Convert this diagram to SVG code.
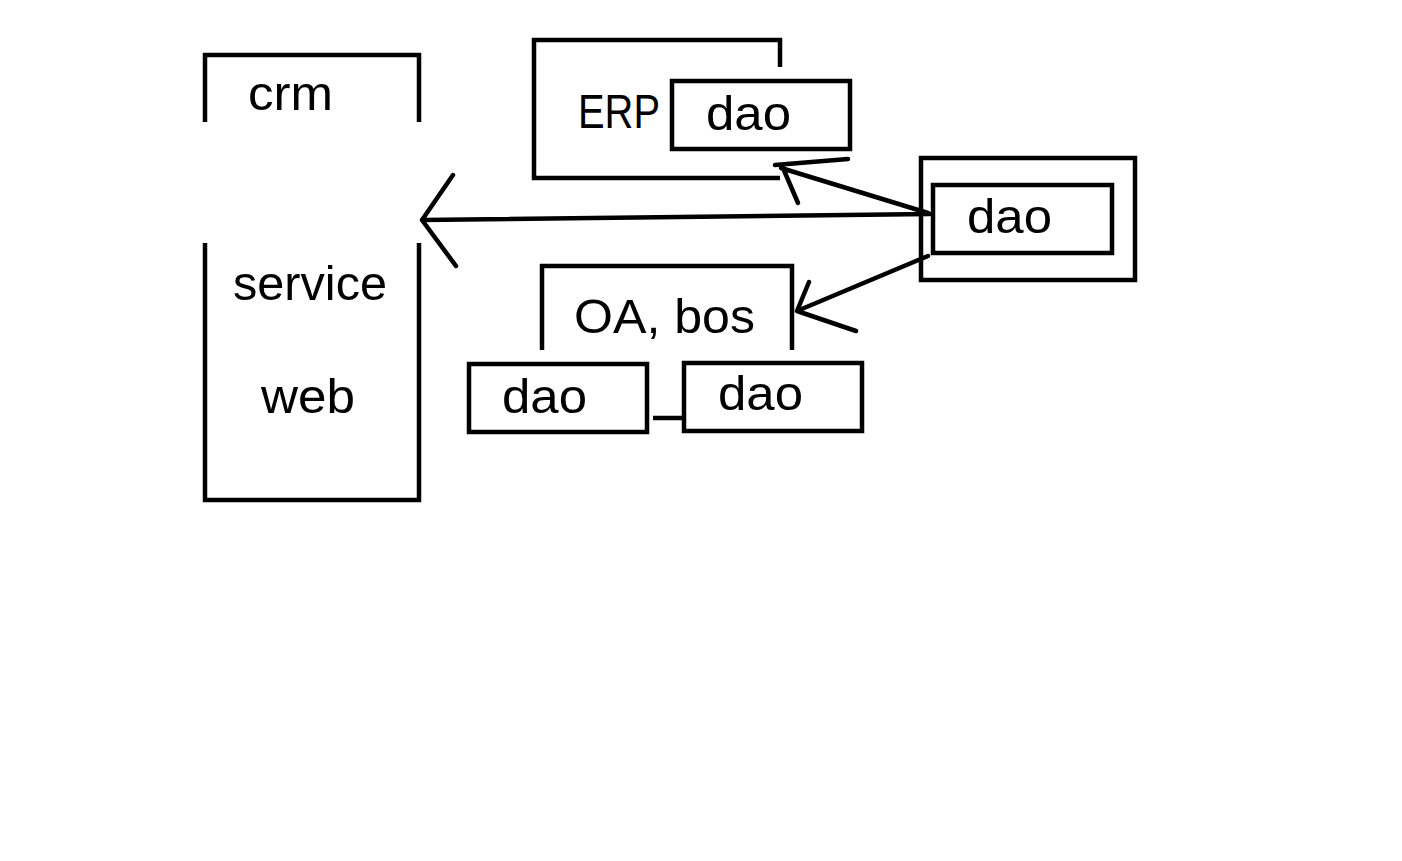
<svg xmlns="http://www.w3.org/2000/svg" width="1402" height="861" viewBox="0 0 1402 861">
<style>
.s{fill:none;stroke:#000;stroke-width:4.5;stroke-linecap:butt;stroke-linejoin:miter}
.c{fill:none;stroke:#000;stroke-width:4.5;stroke-linecap:round;stroke-linejoin:round}
.t{font-family:"Liberation Sans",Arial,sans-serif;font-size:49px;fill:#000}
</style>
<rect width="1402" height="861" fill="#fff"/>
<g id="crm">
<path class="s" d="M205,122 V55 H419 V122"/>
<path class="s" d="M205,243 V500 H419 V243"/>
<text class="t" x="248" y="110" textLength="85" lengthAdjust="spacingAndGlyphs">crm</text>
<text class="t" x="233" y="300" textLength="154" lengthAdjust="spacingAndGlyphs">service</text>
<text class="t" x="261" y="413" textLength="94" lengthAdjust="spacingAndGlyphs">web</text>
</g>
<g id="erp">
<path class="s" d="M780,67 V40 H534 V178 H780"/>
<text class="t" x="578" y="128" textLength="82" lengthAdjust="spacingAndGlyphs">ERP</text>
</g>
<g id="erp-dao">
<rect class="s" x="672" y="81" width="178" height="68"/>
<text class="t" x="706" y="130" textLength="85" lengthAdjust="spacingAndGlyphs">dao</text>
</g>
<g id="shared-dao">
<rect class="s" x="921" y="158" width="214" height="122"/>
<rect class="s" x="933" y="185" width="179" height="68"/>
<text class="t" x="967" y="233" textLength="85" lengthAdjust="spacingAndGlyphs">dao</text>
</g>
<g id="oa-bos">
<path class="s" d="M542,350 V266 H792 V350"/>
<text class="t" x="574" y="333" textLength="181" lengthAdjust="spacingAndGlyphs">OA, bos</text>
</g>
<g id="oa-dao-1">
<rect class="s" x="469" y="364" width="178" height="68"/>
<text class="t" x="502" y="413" textLength="85" lengthAdjust="spacingAndGlyphs">dao</text>
</g>
<g id="oa-dao-2">
<rect class="s" x="684" y="363" width="178" height="68"/>
<text class="t" x="718" y="410" textLength="85" lengthAdjust="spacingAndGlyphs">dao</text>
</g>
<g id="connectors">
<path class="c" d="M930,214 L422,220 M453,175 L422,220 L456,266"/>
<path class="c" d="M928,213 L781,168 M848,159 L775,165 M783,168 L798,203"/>
<path class="c" d="M928,256 L797,311 M809,282 L797,311 L856,331"/>
<path class="s" d="M653,418 H682"/>
</g>
</svg>
